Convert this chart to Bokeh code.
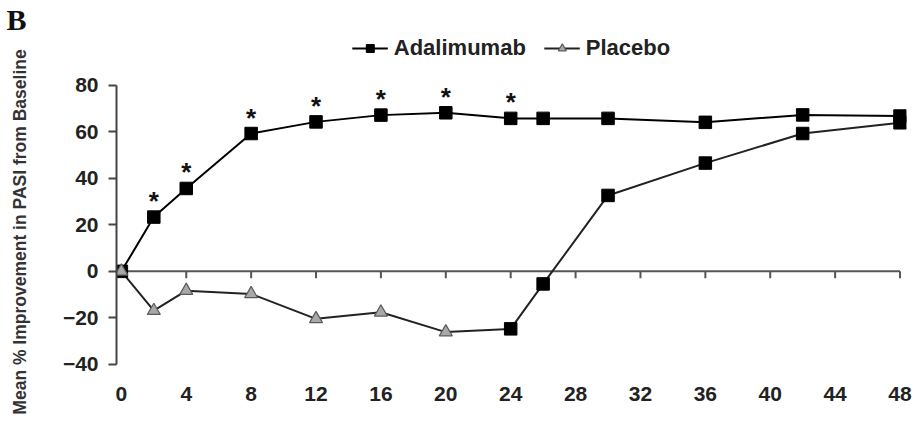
from bokeh.plotting import figure
from bokeh.models import Range1d, FixedTicker, Legend, LegendItem, Title, ColumnDataSource
from bokeh.core.properties import value
from bokeh.embed import file_html
from bokeh.resources import INLINE

# ---- data ----
weeks_ada = [0, 2, 4, 8, 12, 16, 20, 24, 26, 30, 36, 42, 48]
ada = [0, 23.3, 35.6, 59.2, 64.2, 67.1, 68.1, 65.7, 65.7, 65.7, 64.0, 67.2, 66.7]

weeks_pla = [0, 2, 4, 8, 12, 16, 20]
pla = [0, -16.9, -8.3, -9.7, -20.4, -17.6, -26.1]

weeks_switch = [24, 26, 30, 36, 42, 48]
switch = [-24.7, -5.4, 32.6, 46.5, 59.2, 63.8]

star_weeks = [2, 4, 8, 12, 16, 20, 24]

xticks = [0, 4, 8, 12, 16, 20, 24, 28, 32, 36, 40, 44, 48]
yticks = [-40, -20, 0, 20, 40, 60, 80]

FONT = "Liberation Sans"

p = figure(width=914, height=430, output_backend="svg", toolbar_location=None,
           x_range=Range1d(-0.3, 48.4), y_range=Range1d(-67.5, 101.3),
           min_border_left=116, min_border_right=8, min_border_top=0,
           min_border_bottom=2)
p.title = Title(text="B", align="left", offset=-110, standoff=0,
                text_font="Liberation Serif", text_font_style="bold",
                text_font_size="30px", text_color="#111111")
p.outline_line_color = None
p.xgrid.visible = False
p.ygrid.visible = False
p.background_fill_color = "white"

# x axis (labels only, at bottom)
xa = p.xaxis[0]
xa.ticker = FixedTicker(ticks=xticks)
xa.axis_line_color = None
xa.major_tick_out = 0
xa.major_tick_in = 0
xa.minor_tick_line_color = None
xa.major_label_standoff = -42
xa.major_label_text_font = FONT
xa.major_label_text_font_style = "bold"
xa.major_label_text_font_size = "21px"
xa.major_label_text_color = "#222222"

# y axis
ya = p.yaxis[0]
ya.ticker = FixedTicker(ticks=yticks)
ya.bounds = (yticks[0], yticks[-1])
ya.axis_line_color = "#444444"
ya.axis_line_width = 2
ya.major_tick_line_color = "#444444"
ya.major_tick_line_width = 2
ya.major_tick_out = 8
ya.major_tick_in = 0
ya.minor_tick_line_color = None
ya.major_label_standoff = 10
ya.major_label_text_font = FONT
ya.major_label_text_font_style = "bold"
ya.major_label_text_font_size = "21px"
ya.major_label_text_color = "#222222"
ya.axis_label = "Mean % Improvement in PASI from Baseline"
ya.axis_label_text_font = FONT
ya.axis_label_text_font_style = "bold"
ya.axis_label_text_font_size = "17.5px"
ya.axis_label_text_color = "#333333"
ya.axis_label_standoff = 30

# zero line with downward ticks
p.line(x=[xticks[0], xticks[-1]], y=[0, 0], line_color="#555555", line_width=2)
p.segment(x0=xticks[1:], y0=[0] * (len(xticks) - 1), x1=xticks[1:],
          y1=[-3] * (len(xticks) - 1), line_color="#555555", line_width=2)

# lines
pla_line = p.line(x=weeks_pla + weeks_switch, y=pla + switch,
                  line_color="#222222", line_width=2)
ada_line = p.line(x=weeks_ada, y=ada, line_color="black", line_width=2)

# markers
ada_pts = p.scatter(x=weeks_ada, y=ada, marker="square", size=12.5,
                    fill_color="black", line_color="black")
p.scatter(x=weeks_switch, y=switch, marker="square", size=12.5,
          fill_color="black", line_color="black")
pla_pts = p.scatter(x=weeks_pla, y=pla, marker="triangle", size=13,
                    fill_color="#a8a8a8", line_color="#5a5a5a", line_width=1.2)

# significance stars
ada_map = dict(zip(weeks_ada, ada))
star_src = ColumnDataSource(dict(x=star_weeks, y=[ada_map[w] for w in star_weeks],
                                 t=["*"] * len(star_weeks)))
p.text(x="x", y="y", text="t", source=star_src, text_align="center",
       text_baseline="alphabetic", y_offset=-16,
       text_font=value(FONT), text_font_style="bold",
       text_font_size="26px", text_color="#111111")

# legend
legend = Legend(items=[LegendItem(label="Adalimumab", renderers=[ada_line, ada_pts]),
                       LegendItem(label="Placebo", renderers=[pla_line, pla_pts])],
                location="top_center", orientation="horizontal",
                glyph_width=36, glyph_height=20, label_standoff=6, spacing=18,
                padding=1, margin=0, border_line_color=None,
                background_fill_alpha=0,
                label_text_font=FONT, label_text_font_style="bold",
                label_text_font_size="22px", label_text_color="#222222")
p.add_layout(legend)

open("out.html", "w").write(file_html(p, INLINE))
